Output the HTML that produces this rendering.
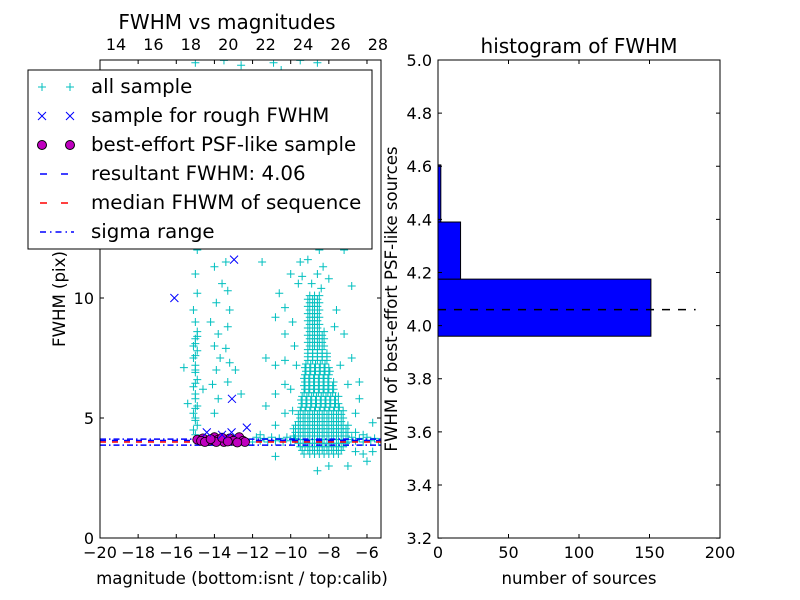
<!DOCTYPE html>
<html><head><meta charset="utf-8"><style>
body{margin:0;background:#fff}
svg{display:block;font-family:"DejaVu Sans","Liberation Sans",sans-serif}
</style></head><body>
<svg id="c" width="800" height="600"></svg>
<script>
// ---- data ----
const allSample = [
[-15.0,4.3],[-15.1,4.5],[-14.9,4.7],[-15.0,5.0],[-15.1,5.2],[-14.9,5.5],[-15.0,5.8],[-15.0,6.0],[-15.1,6.3],[-14.9,6.6],[-15.0,6.9],[-15.0,7.2],[-15.1,7.5],[-14.9,7.8],[-15.0,8.1],[-15.0,8.3],[-14.9,8.6],[-15.0,9.0],[-15.1,9.5],[-14.9,10.2],[-15.0,11.0],[-14.9,12.0],[-15.0,12.5],[-15.0,13.5],[-14.9,14.5],[-15.1,16.0],[-14.8,18.5],[-15.0,19.8],[-15.6,7.1],[-15.4,5.6],[-14.6,6.2],
[-15.0,4.9],[-15.0,5.4],[-15.0,6.45],[-15.0,7.0],[-15.0,7.6],[-15.1,8.0],[-14.9,8.4],
[-14.0,5.2],[-13.8,5.8],[-14.1,6.4],[-13.9,7.0],[-13.7,7.5],[-14.0,8.0],[-13.8,8.5],[-14.2,9.0],[-13.9,9.8],[-13.6,10.6],[-14.0,11.3],[-13.8,12.2],[-14.1,14.0],[-13.9,17.0],
[-13.3,6.5],[-13.2,7.3],[-13.4,7.9],[-13.3,8.8],[-13.2,9.5],[-13.3,10.3],[-13.4,11.5],[-13.3,12.4],[-13.2,13.2],[-12.6,6.0],[-12.9,7.0],
[-10.3,5.2],[-10.3,6.4],[-10.3,7.4],[-10.3,8.5],[-10.3,9.6],
[-10.8,4.7],[-10.8,6.0],[-10.8,7.2],[-10.8,9.2],[-11.3,5.5],[-11.3,7.5],
[-6.6,3.6],[-6.6,4.4],[-6.6,5.2],[-6.2,3.5],[-6.2,4.3],[-5.7,3.6],[-5.7,4.8],[-6.4,5.8],[-6.0,3.2],[-7.0,3.0],[-8.0,3.0],[-8.6,2.8],
[-10.5,19.5],[-9.2,18.0],[-8.6,19.8],[-8.0,17.0],[-7.5,15.5],[-9.8,16.2],[-11.0,14.5],[-6.2,13.5],[-10.2,12.8],[-8.8,14.0],[-8.1,12.5],[-9.0,13.2],[-7.2,12.0],[-11.5,11.5],[-6.8,10.5],[-8.5,12.0],[-9.5,11.5],[-10.0,11.0],[-7.6,9.5],[-7.2,8.5],[-6.8,7.5],[-6.4,6.5],[-11.6,4.3],[-10.8,3.4],
[-9.6,10.6],[-9.9,9.0],[-9.8,8.0],[-9.7,7.2],[-10.0,6.2],[-9.9,5.3],[-8.0,10.8],[-7.7,8.8],[-7.4,7.2],[-7.0,6.4],[-9.3,12.4],[-8.3,11.3],[-10.6,10.2],[-7.9,13.8],[-9.6,14.8],[-8.9,16.8],[-10.9,19.8],[-9.5,19.9],[-13.5,19.9],[-12.6,19.7],
[-8.9,10.6],[-8.6,11.0],[-9.1,11.6],[-8.7,12.4],[-9.4,10.9],[-8.4,10.4]
];
const coreY = [3.5,3.8,4.1,4.4,4.7,5.0,5.3,5.6,5.9,6.2,6.5,6.8,7.1,7.4,7.7,8.0,8.3,8.6,8.9,9.2,9.5,9.8,10.1];
const coreX = [
[-9.3,-9.0,-8.75,-8.5,-8.25,-8.0,-7.75,-7.5],
[-9.5,-9.25,-9.0,-8.75,-8.5,-8.25,-8.0,-7.75,-7.5,-7.25],
[-9.75,-9.5,-9.25,-9.0,-8.75,-8.5,-8.25,-8.0,-7.75,-7.5,-7.25,-7.0],
[-9.75,-9.5,-9.25,-9.0,-8.75,-8.5,-8.25,-8.0,-7.75,-7.5,-7.25,-7.0],
[-9.75,-9.5,-9.25,-9.0,-8.75,-8.5,-8.25,-8.0,-7.75,-7.5,-7.25,-7.0],
[-9.5,-9.25,-9.0,-8.75,-8.5,-8.25,-8.0,-7.75,-7.5,-7.25],
[-9.5,-9.25,-9.0,-8.75,-8.5,-8.25,-8.0,-7.75,-7.5,-7.25],
[-9.4,-9.15,-8.9,-8.65,-8.4,-8.15,-7.9,-7.65,-7.5],
[-9.4,-9.15,-8.9,-8.65,-8.4,-8.15,-7.9,-7.65,-7.5],
[-9.25,-9.0,-8.75,-8.5,-8.25,-8.0,-7.75],
[-9.25,-9.0,-8.75,-8.5,-8.25,-8.0,-7.75],
[-9.25,-9.0,-8.75,-8.5,-8.25,-8.0],
[-9.25,-9.0,-8.75,-8.5,-8.25,-8.0],
[-9.1,-8.85,-8.6,-8.35,-8.1],
[-9.1,-8.85,-8.6,-8.35,-8.1],
[-9.0,-8.75,-8.5,-8.25],
[-9.0,-8.75,-8.5,-8.25],
[-9.0,-8.75,-8.5,-8.25],
[-9.0,-8.75,-8.5],
[-9.0,-8.75,-8.5],
[-9.0,-8.75,-8.5],
[-9.0,-8.75,-8.5],
[-9.0,-8.75,-8.5]
];
const core2Y = [3.65,3.95,4.25,4.55,4.85,5.15,5.45,5.75,6.05,6.35,6.65,6.95,7.25,7.55,7.85,8.15,8.45,8.75,9.05,9.35,9.65,9.95];
const core2X = [
[-9.4,-9.1,-8.85,-8.6,-8.35,-8.1,-7.85,-7.6,-7.35],
[-9.6,-9.35,-9.1,-8.85,-8.6,-8.35,-8.1,-7.85,-7.6,-7.35,-7.1],
[-9.85,-9.6,-9.35,-9.1,-8.85,-8.6,-8.35,-8.1,-7.85,-7.6,-7.35,-7.1],
[-9.85,-9.6,-9.35,-9.1,-8.85,-8.6,-8.35,-8.1,-7.85,-7.6,-7.35,-7.1],
[-9.6,-9.35,-9.1,-8.85,-8.6,-8.35,-8.1,-7.85,-7.6,-7.35],
[-9.6,-9.35,-9.1,-8.85,-8.6,-8.35,-8.1,-7.85,-7.6,-7.35],
[-9.45,-9.2,-8.95,-8.7,-8.45,-8.2,-7.95,-7.7,-7.45],
[-9.45,-9.2,-8.95,-8.7,-8.45,-8.2,-7.95,-7.7],
[-9.3,-9.05,-8.8,-8.55,-8.3,-8.05,-7.8],
[-9.3,-9.05,-8.8,-8.55,-8.3,-8.05,-7.8],
[-9.3,-9.05,-8.8,-8.55,-8.3,-8.05],
[-9.2,-8.95,-8.7,-8.45,-8.2,-7.95],
[-9.2,-8.95,-8.7,-8.45,-8.2],
[-9.1,-8.85,-8.6,-8.35,-8.1],
[-9.1,-8.85,-8.6,-8.35],
[-9.1,-8.85,-8.6,-8.35],
[-9.1,-8.85,-8.6,-8.35],
[-9.1,-8.85,-8.6],
[-9.1,-8.85,-8.6],
[-9.1,-8.85,-8.6],
[-9.1,-8.85,-8.6],
[-9.1,-8.85,-8.6]
];
const bandX = [-12.0,-11.8,-11.6,-11.4,-11.2,-11.0,-10.8,-10.6,-10.4,-10.2,-10.0,-9.8,-7.0,-6.8,-6.6,-6.4,-6.2,-6.0,-5.8,-5.6,-5.4];
const bandY = [4.0,4.2,4.05,4.15,4.0,4.2,4.05,4.15,4.0,4.2,4.05,4.15,4.0,4.2,4.05,4.15,4.0,4.2,4.05,4.15,4.0];
const roughSample = [[-16.1,10.0],[-12.97,11.6],[-13.08,5.8],[-14.4,4.4],[-13.1,4.4],[-12.3,4.6],[-13.6,4.3]];
const psfSample = [[-14.9,4.1],[-14.6,4.15],[-14.3,4.05],[-14.0,4.2],[-13.8,4.1],[-13.5,4.0],[-13.2,4.15],[-12.9,4.1],[-12.7,4.2],[-12.5,4.05],[-12.4,4.0],[-14.7,4.05],[-13.9,4.0],[-13.0,4.05],[-14.5,4.0],[-14.2,4.12],[-13.6,4.18],[-13.3,4.02],[-12.8,3.98]];
const resultFWHM = 4.06;
const medianFWHM = 4.0;
const sigmaRange = [3.87, 4.12];
const binEdges = [3.96, 4.175, 4.39, 4.605];
const binCounts = [151, 16, 2];
const leftXTicks = [-20,-18,-16,-14,-12,-10,-8,-6];
const topXTicks = [14,16,18,20,22,24,26,28];
const leftYTicks = [0,5,10];
const histXTicks = [0,50,100,150,200];
const histYTicks = [3.2,3.4,3.6,3.8,4.0,4.2,4.4,4.6,4.8,5.0];

const NS="http://www.w3.org/2000/svg", svg=document.getElementById('c');
function mk(t,a,p){const e=document.createElementNS(NS,t);for(const k in a)e.setAttribute(k,a[k]);(p||svg).appendChild(e);return e;}
function txt(s,a,p){const e=mk('text',a,p);e.textContent=s;return e;}

const lx=v=>100+(v+20)*19.07, ly=v=>538-v*24, tx=v=>116+(v-14)*18.71;
const gL=mk('g',{});


const clip=mk('clipPath',{id:'cl'});mk('rect',{x:100,y:60,width:281,height:478},clip);
const gp=mk('g',{'clip-path':'url(#cl)'},gL);


const pts=allSample.slice();
coreY.forEach((y,i)=>coreX[i].forEach(x=>pts.push([x,y])));
core2Y.forEach((y,i)=>core2X[i].forEach(x=>pts.push([x,y])));
bandX.forEach((x,i)=>pts.push([x,bandY[i]]));
pts.forEach(p=>{const x=lx(p[0]),y=ly(p[1]);const e=mk('path',{d:`M${x-4},${y}H${x+4}M${x},${y-4}V${y+4}`,stroke:'#00bfbf','stroke-width':1},gp);

});
const lines=[[resultFWHM,'#0000ff','6,6'],[medianFWHM,'#ff0000','6,6'],[sigmaRange[0],'#0000ff','6,3,1.5,3'],[sigmaRange[1],'#0000ff','6,3,1.5,3']];
lines.forEach(l=>{const e=mk('line',{x1:100,x2:381,y1:ly(l[0]),y2:ly(l[0]),stroke:l[1],'stroke-width':1.5,'stroke-dasharray':l[2]},gp);

});
psfSample.forEach(p=>{const e=mk('circle',{cx:lx(p[0]),cy:ly(p[1]),r:4.5,fill:'#bf00bf',stroke:'#000','stroke-width':0.8},gp);

});
roughSample.forEach(p=>{const x=lx(p[0]),y=ly(p[1]);const e=mk('path',{d:`M${x-4},${y-4}L${x+4},${y+4}M${x-4},${y+4}L${x+4},${y-4}`,stroke:'#0000ff','stroke-width':1},gp);

});
mk('rect',{x:100,y:60,width:281,height:478,fill:'none',stroke:'#000','stroke-width':1},gL);
leftXTicks.forEach(v=>{const x=lx(v);mk('path',{d:`M${x},538v-4M${x},60v4`,stroke:'#000'},gL);txt('\u2212'+(-v),{x:x,y:558,'text-anchor':'middle','font-size':16},gL);});
topXTicks.forEach(v=>{const x=tx(v);txt(String(v),{x:x,y:50,'text-anchor':'middle','font-size':16},gL);});
leftYTicks.forEach(v=>{const y=ly(v);mk('path',{d:`M100,${y}h4M381,${y}h-4`,stroke:'#000'},gL);txt(String(v),{x:94,y:y+6,'text-anchor':'end','font-size':16},gL);});
txt('FWHM vs magnitudes',{x:227,y:29,'text-anchor':'middle','font-size':20},gL);
txt('magnitude (bottom:isnt / top:calib)',{x:242,y:584,'text-anchor':'middle','font-size':16.6},gL);
txt('FWHM (pix)',{x:0,y:0,'text-anchor':'middle','font-size':16.6,transform:'translate(65,299) rotate(-90)'},gL);

const lg=mk('g',{});


mk('rect',{x:28,y:70,width:344,height:179,fill:'#fff',stroke:'#000'},lg);
const ent=[['all sample','plus'],['sample for rough FWHM','x'],['best-effort PSF-like sample','o'],['resultant FWHM: 4.06','bd'],['median FHWM of sequence','rd'],['sigma range','dd']];
ent.forEach((e,i)=>{const y=87+i*29;const g=mk('g',{},lg);


[42,70].forEach(x=>{if(e[1]=='plus')mk('path',{d:`M${x-4},${y}H${x+4}M${x},${y-4}V${y+4}`,stroke:'#00bfbf'},g);
if(e[1]=='x')mk('path',{d:`M${x-4},${y-4}L${x+4},${y+4}M${x-4},${y+4}L${x+4},${y-4}`,stroke:'#0000ff'},g);
if(e[1]=='o')mk('circle',{cx:x,cy:y,r:4.5,fill:'#bf00bf',stroke:'#000'},g);});
if(e[1]=='bd')mk('line',{x1:40,x2:74,y1:y,y2:y,stroke:'#0000ff','stroke-width':1.5,'stroke-dasharray':'7,14'},g);
if(e[1]=='rd')mk('line',{x1:40,x2:74,y1:y,y2:y,stroke:'#ff0000','stroke-width':1.5,'stroke-dasharray':'7,14'},g);
if(e[1]=='dd')mk('line',{x1:40,x2:74,y1:y,y2:y,stroke:'#0000ff','stroke-width':1.5,'stroke-dasharray':'6,4,1.5,4'},g);
txt(e[0],{x:91,y:y+6,'font-size':19.8},g);});

const hx=v=>438+v*1.41, hy=v=>60+(5.0-v)*265.6;
const gH=mk('g',{});


binCounts.forEach((c,i)=>{const e=mk('rect',{x:438,y:hy(binEdges[i+1]),width:hx(c)-438,height:hy(binEdges[i])-hy(binEdges[i+1]),fill:'#0000ff',stroke:'#000'},gH);

});
const dl=mk('line',{x1:438,x2:hx(Math.max(...binCounts)*1.21),y1:hy(resultFWHM),y2:hy(resultFWHM),stroke:'#000','stroke-width':1.5,'stroke-dasharray':'8,8'},gH);


mk('rect',{x:438,y:60,width:282,height:478,fill:'none',stroke:'#000'},gH);
histXTicks.forEach(v=>{const x=hx(v);mk('path',{d:`M${x},538v-4M${x},60v4`,stroke:'#000'},gH);txt(String(v),{x:x,y:558,'text-anchor':'middle','font-size':16},gH);});
histYTicks.forEach(v=>{const y=hy(v);mk('path',{d:`M438,${y}h4M720,${y}h-4`,stroke:'#000'},gH);txt(v.toFixed(1),{x:432,y:y+6,'text-anchor':'end','font-size':16},gH);});
txt('histogram of FWHM',{x:579,y:53,'text-anchor':'middle','font-size':20},gH);
txt('number of sources',{x:579,y:584,'text-anchor':'middle','font-size':16.6},gH);
txt('FWHM of best-effort PSF-like sources',{x:0,y:0,'text-anchor':'middle','font-size':16.6,transform:'translate(397,299) rotate(-90)'},gH);
</script>
</body></html>
